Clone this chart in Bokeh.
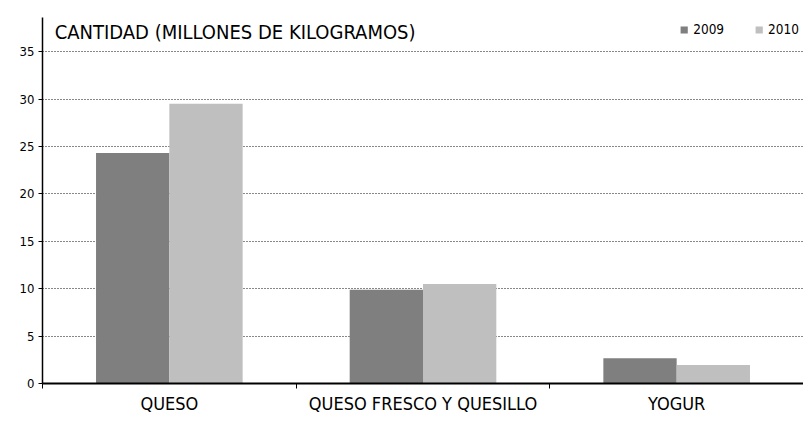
from bokeh.plotting import figure
from bokeh.models import Range1d, FixedTicker, Legend, LegendItem, Label, ColumnDataSource
from bokeh.embed import file_html
from bokeh.resources import INLINE

categories = ["QUESO", "QUESO FRESCO Y QUESILLO", "YOGUR"]
series_names = ["2009", "2010"]
values_2009 = [24.3, 9.9, 2.67]
values_2010 = [29.5, 10.5, 1.95]
y_ticks = [0, 5, 10, 15, 20, 25, 30, 35]
title_text = "CANTIDAD (MILLONES DE KILOGRAMOS)"

FONT = "DejaVu Sans Condensed"
C2009 = "#7f7f7f"
C2010 = "#bfbfbf"

p = figure(width=803, height=416, output_backend="svg", toolbar_location=None,
           x_range=Range1d(0, len(categories)), y_range=Range1d(0, 38.6),
           min_border_left=42, min_border_right=0, min_border_top=17, min_border_bottom=31)
p.outline_line_color = None
p.background_fill_color = "white"
p.border_fill_color = "white"

bw = 0.289
centers = [i + 0.5 for i in range(len(categories))]
src09 = ColumnDataSource(dict(x=[c - bw / 2 for c in centers], top=values_2009))
src10 = ColumnDataSource(dict(x=[c + bw / 2 for c in centers], top=values_2010))
r09 = p.vbar(x="x", top="top", width=bw, bottom=0, source=src09, fill_color=C2009, line_color=None)
r10 = p.vbar(x="x", top="top", width=bw, bottom=0, source=src10, fill_color=C2010, line_color=None)

# y axis
p.yaxis.ticker = FixedTicker(ticks=y_ticks)
p.yaxis.axis_line_color = "black"
p.yaxis.axis_line_width = 1.5
p.yaxis.major_tick_line_color = "black"
p.yaxis.major_tick_out = 4
p.yaxis.major_tick_in = 0
p.yaxis.minor_tick_line_color = None
p.yaxis.major_label_standoff = 4
p.yaxis.major_label_text_font = FONT
p.yaxis.major_label_text_font_size = "13px"
p.yaxis.major_label_text_color = "black"

# x axis: labels at category centres, ticks at category boundaries
p.xaxis.ticker = FixedTicker(ticks=centers, minor_ticks=list(range(len(categories) + 1)))
p.xaxis.major_label_overrides = {c: cat for c, cat in zip(centers, categories)}
p.xaxis.major_tick_line_color = None
p.xaxis.major_tick_out = 0
p.xaxis.major_tick_in = 0
p.xaxis.minor_tick_line_color = "black"
p.xaxis.minor_tick_out = 5
p.xaxis.minor_tick_in = 0
p.xaxis.axis_line_color = "black"
p.xaxis.axis_line_width = 2
p.xaxis.major_label_standoff = 4
p.xaxis.major_label_text_font = FONT
p.xaxis.major_label_text_font_size = "18px"
p.xaxis.major_label_text_color = "black"

# grid
p.xgrid.grid_line_color = None
p.ygrid.ticker = FixedTicker(ticks=y_ticks[1:])
p.ygrid.grid_line_color = "#111111"
p.ygrid.grid_line_dash = "1 2"
p.ygrid.grid_line_width = 1

# title inside the plot
p.add_layout(Label(x=0.048, y=37.1, text=title_text, text_font=FONT,
                   text_font_size="20px", text_color="black", text_baseline="alphabetic"))

legend = Legend(items=[LegendItem(label=series_names[0], renderers=[r09]),
                       LegendItem(label=series_names[1], renderers=[r10])],
                location="top_right", orientation="horizontal",
                border_line_color=None, background_fill_alpha=0,
                margin=4, padding=4, spacing=30,
                glyph_width=9, glyph_height=9, label_standoff=5,
                label_height=15, label_text_font=FONT, label_text_font_size="13.5px",
                label_text_color="black")
p.add_layout(legend)

open("out.html", "w").write(file_html(p, INLINE))
